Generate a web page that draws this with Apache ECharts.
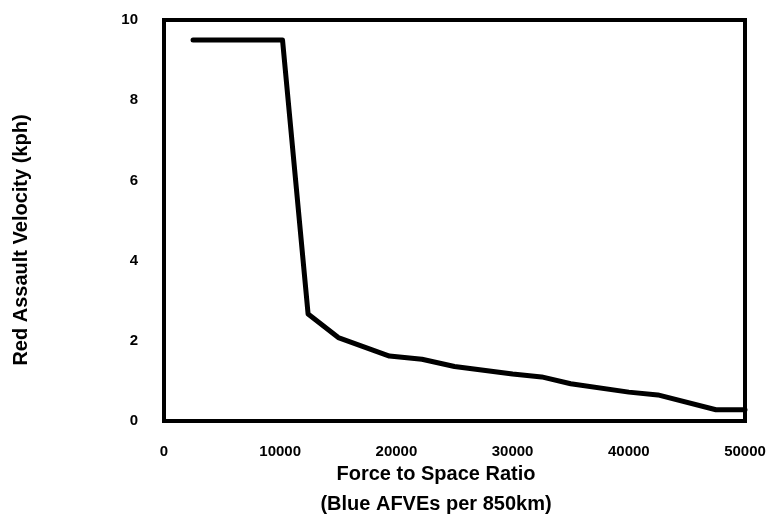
<!DOCTYPE html>
<html>
<head>
<meta charset="utf-8">
<script src="https://cdn.jsdelivr.net/npm/echarts@6/dist/echarts.min.js"></script>
<style>
  html, body { margin: 0; padding: 0; background: #fff; }
  #chart { width: 770px; height: 525px; }
</style>
</head>
<body>
<div id="chart"></div>
<script>
// force to space ratio (Blue AFVEs per 850km)
var forceRatio = [2500, 10200, 12400, 15000, 19400, 22200, 25000, 30000, 32500, 35000, 40000, 42500, 47500, 50000]
// red assault velocity (kph)
var velocity = [9.5, 9.5, 2.67, 2.08, 1.62, 1.54, 1.36, 1.17, 1.1, 0.93, 0.72, 0.65, 0.28, 0.28]
var xTitle = ['Force to Space Ratio', '(Blue AFVEs per 850km)']
var yTitle = 'Red Assault Velocity (kph)'

var font = '"Liberation Sans", Arial, Helvetica, sans-serif'
var points = forceRatio.map(function (x, i) { return [x, velocity[i]] })

var myChart = echarts.init(document.getElementById('chart'))
myChart.setOption({
  animation: false,
  backgroundColor: '#fff',
  grid: {
    left: 164,
    right: 25,
    top: 20,
    bottom: 104,
    show: true,
    borderColor: '#000',
    borderWidth: 4
  },
  xAxis: {
    type: 'value',
    min: 0,
    max: 50000,
    interval: 10000,
    axisLine: { show: false },
    axisTick: { show: false },
    splitLine: { show: false },
    axisLabel: {
      margin: 23,
      color: '#000',
      fontFamily: font,
      fontWeight: 'bold',
      fontSize: 15,
      formatter: function (v) { return String(v) }
    }
  },
  yAxis: {
    type: 'value',
    min: 0,
    max: 10,
    interval: 2,
    axisLine: { show: false },
    axisTick: { show: false },
    splitLine: { show: false },
    axisLabel: {
      margin: 26,
      color: '#000',
      fontFamily: font,
      fontWeight: 'bold',
      fontSize: 15
    }
  },
  graphic: [
    {
      type: 'text',
      x: 436,
      y: 474,
      style: {
        text: xTitle[0],
        textAlign: 'center',
        textVerticalAlign: 'middle',
        fontFamily: font,
        fontWeight: 'bold',
        fontSize: 20,
        fill: '#000'
      }
    },
    {
      type: 'text',
      x: 436,
      y: 504,
      style: {
        text: xTitle[1],
        textAlign: 'center',
        textVerticalAlign: 'middle',
        fontFamily: font,
        fontWeight: 'bold',
        fontSize: 20,
        fill: '#000'
      }
    },
    {
      type: 'text',
      x: 21,
      y: 240,
      rotation: Math.PI / 2,
      style: {
        text: yTitle,
        textAlign: 'center',
        textVerticalAlign: 'middle',
        fontFamily: font,
        fontWeight: 'bold',
        fontSize: 20,
        fill: '#000'
      }
    }
  ],
  series: [
    {
      type: 'line',
      data: points,
      symbol: 'none',
      smooth: false,
      lineStyle: {
        color: '#000',
        width: 5,
        cap: 'round',
        join: 'round'
      }
    }
  ]
})
</script>
</body>
</html>
